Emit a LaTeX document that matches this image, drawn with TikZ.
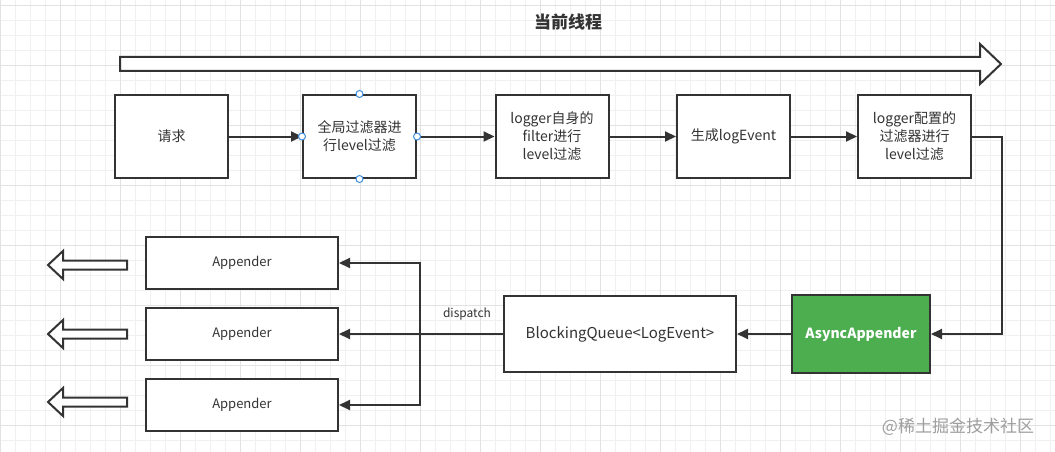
\documentclass[tikz,border=0pt]{standalone}
\usepackage{fontspec}
\setmainfont{Noto Sans CJK SC}
\usepackage{tikz}
\usetikzlibrary{arrows.meta}
\definecolor{ink}{HTML}{333333}
\definecolor{asyncgreen}{HTML}{4CAE4F}
\definecolor{handleblue}{HTML}{3D8FE0}
\definecolor{gridminor}{HTML}{F0F0F0}
\definecolor{gridmajor}{HTML}{E2E2E2}
\tikzset{
  proc/.style={draw=ink, line width=2pt, fill=white, minimum width=113pt, minimum height=83pt,
    align=center, text=ink, inner sep=2pt, font=\fontsize{14}{18}\selectfont},
  app/.style={proc, minimum width=192pt, minimum height=52pt, font=\fontsize{13}{15}\selectfont},
  link/.style={draw=ink, line width=2pt, -{Triangle[length=11pt,width=10pt]}},
  handle/.style={circle, draw=handleblue, fill=white, line width=1pt, minimum size=7pt, inner sep=0pt},
  hollow/.style={draw=ink, line width=2pt, fill=white, line join=miter},
}

\begin{document}
\begin{tikzpicture}[x=1pt, y=-1pt]
  \useasboundingbox (0,0) rectangle (1055,452);
  \fill[white] (0,0) rectangle (1055,452);
  \foreach \x in {0,15,...,1050} \draw[gridminor, line width=0.8pt] (\x,0) -- (\x,452);
  \foreach \y in {5,20,...,450} \draw[gridminor, line width=0.8pt] (0,\y) -- (1055,\y);
  \foreach \x in {0,60,...,1050} \draw[gridmajor, line width=0.8pt] (\x,0) -- (\x,452);
  \foreach \y in {5,65,...,450} \draw[gridmajor, line width=0.8pt] (0,\y) -- (1055,\y);

  \node (title) at (568,22) {\fontsize{17}{20}\selectfont\bfseries\color{ink}当前线程};
  \draw[hollow] (120,57) -- (980,57) -- (980,44) -- (1001,64) -- (980,84) -- (980,71) -- (120,71) -- cycle;

  \node[proc] (req) at (171.5,136.5) {请求};
  \node[proc] (glob) at (359.5,136.5) {全局过滤器进\\行level过滤};
  \node[proc] (self) at (552,136.5) {logger自身的\\filter进行\\level过滤};
  \node[proc] (gen) at (733.5,136.5) {生成logEvent};
  \node[proc] (cfg) at (914.5,136.5) {logger配置的\\过滤器进行\\level过滤};

  \node[proc, fill=asyncgreen, minimum width=138pt, minimum height=78pt, text=white,
    font=\fontsize{14}{18}\selectfont\bfseries] (async) at (861,334) {AsyncAppender};
  \node[proc, minimum width=232pt, minimum height=76pt, font=\fontsize{15}{18}\selectfont] (queue) at (620,334) {BlockingQueue<LogEvent>};

  \node[app] (appa) at (242,263) {Appender};
  \node[app] (appb) at (242,334) {Appender};
  \node[app] (appc) at (242,405) {Appender};

  \coordinate (turn) at (1002,334);
  \coordinate (bus) at (420,334);

  \draw[link] (req) -- (glob);
  \draw[link] (glob) -- (self);
  \draw[link] (self) -- (gen);
  \draw[link] (gen) -- (cfg);
  \draw[link] (cfg.east) -| (turn) -- (async.east);
  \draw[link] (async) -- (queue);
  \draw[link] (queue.west) -- (appb.east);
  \draw[link] (bus) |- (appa.east);
  \draw[link] (bus) |- (appc.east);
  \node[text=ink, font=\fontsize{12}{14}\selectfont] (disp) at (467,314) {dispatch};

  \foreach \c in {265,334,402}
    \draw[hollow] (127,\c-4.5) -- (63,\c-4.5) -- (63,\c-14) -- (48,\c) -- (63,\c+14) -- (63,\c+4.5) -- (127,\c+4.5) -- cycle;

  \node[handle] (hw) at (glob.west) {};
  \node[handle] (he) at (glob.east) {};
  \node[handle] (hn) at (glob.north) {};
  \node[handle] (hs) at (glob.south) {};

  \node[text=black!38, font=\fontsize{17}{20}\selectfont] (mark) at (958,427) {@稀土掘金技术社区};
\end{tikzpicture}
\end{document}
